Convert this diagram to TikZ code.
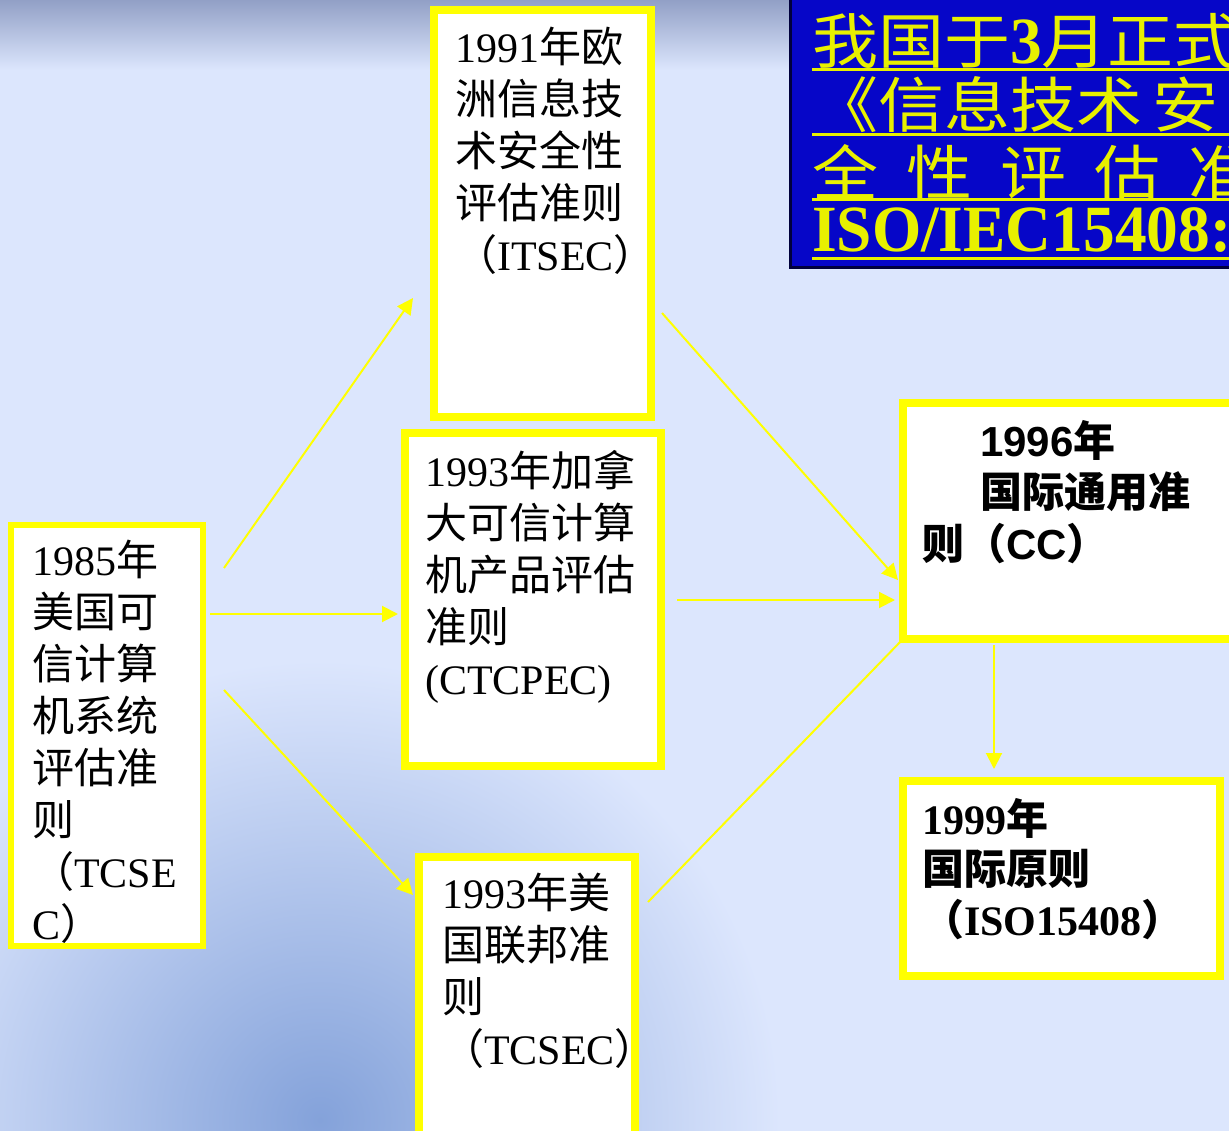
\documentclass[tikz,border=0pt]{standalone}
\usepackage{fontspec}
\setmainfont{Liberation Serif}
\newfontfamily\cjk{Noto Sans CJK SC}
\newfontfamily\cjkw[FakeStretch=1.1]{Noto Sans CJK SC}
\newfontfamily\ars{Liberation Sans}
\newfontfamily\tnw[FakeStretch=0.96]{Liberation Serif}
\usetikzlibrary{arrows.meta,calc}
\definecolor{bg}{RGB}{220,230,253}
\definecolor{topc}{RGB}{146,160,198}
\definecolor{photo}{RGB}{132,162,218}
\definecolor{yel}{RGB}{255,255,0}
\definecolor{btxt}{RGB}{232,240,0}
\definecolor{bluef}{RGB}{6,6,200}
\definecolor{navy}{RGB}{0,0,60}
\tikzset{
  ybox/.style={draw=yel, fill=white, line width=8pt, outer sep=0pt, inner sep=0pt},
  txt/.style={anchor=north west, inner sep=0pt, align=left, font=\fontsize{42}{52}\selectfont},
  arr/.style={draw=yel, line width=2pt, -{Triangle[length=16pt,width=16pt]}},
  ln/.style={draw=yel, line width=2pt},
  btext/.style={anchor=base west, inner sep=0pt, text=btxt, font=\fontsize{60}{64}\selectfont},
  bul/.style={draw=btxt, line width=3pt}
}
\begin{document}
\begin{tikzpicture}[x=1pt,y=-1pt]
\useasboundingbox (0,0) rectangle (1229,1131);
% background
\fill[bg] (0,0) rectangle (1229,1131);
\shade[top color=topc, bottom color=bg] (0,0) rectangle (1229,70);
\begin{scope}
  \clip (0,0) rectangle (1229,1131);
  \shade[inner color=photo, outer color=bg] (320,1120) circle (460);
\end{scope}
% blue title box
\node[draw=navy, fill=bluef, line width=3pt, minimum width=450pt, minimum height=273pt, inner sep=0pt, outer sep=0pt] (blue) at (1015,131.5) {};
\node[btext] (b1) at (812,64) {{\cjkw 我国于}{\tnw\bfseries\fontsize{66}{64}\selectfont 3}{\cjkw 月正式}};
\node[btext] (b2) at (812,128) {{\cjkw 《信息技术}\hspace{10pt}{\cjkw 安}};
\node[btext] (b3) at (812,196) {{\cjkw 全\hspace{28pt}性\hspace{28pt}评\hspace{28pt}估\hspace{28pt}准}};
\node[btext] (b4) at (812,252) {{\tnw\bfseries\fontsize{66}{64}\selectfont ISO/IEC15408:}};
\draw[bul] (812,70) -- (1240,70);
\draw[bul] (812,135) -- (1240,135);
\draw[bul] (812,200) -- (1240,200);
\draw[bul] (812,259) -- (1240,259);
% boxes
\node[ybox, minimum width=217pt, minimum height=407pt] (itsec) at (542.5,213.5) {};
\node[ybox, minimum width=256pt, minimum height=333pt] (ctcpec) at (533,599.5) {};
\node[ybox, line width=6pt, minimum width=192pt, minimum height=421pt] (tcsec) at (107,735.5) {};
\node[ybox, minimum width=216pt, minimum height=283pt] (fed) at (527,998.5) {};
\node[ybox, minimum width=337pt, minimum height=236pt] (cc) at (1071.5,521) {};
\node[ybox, minimum width=317pt, minimum height=195pt] (iso) at (1061.5,878.5) {};
% texts
\node[txt] (titsec) at (455,27) {1991{\cjk 年欧}\\{\cjk 洲信息技}\\{\cjk 术安全性}\\{\cjk 评估准则}\\{\cjk （}ITSEC{\cjk ）}};
\node[txt] (tctcpec) at (425,450) {1993{\cjk 年加拿}\\{\cjk 大可信计算}\\{\cjk 机产品评估}\\{\cjk 准则}\\(CTCPEC)};
\node[txt] (ttcsec) at (32,540) {1985{\cjk 年}\\{\cjk 美国可}\\{\cjk 信计算}\\{\cjk 机系统}\\{\cjk 评估准}\\{\cjk 则}\\{\cjk （}TCSE\\C{\cjk ）}};
\node[txt] (tfed) at (442,873) {1993{\cjk 年美}\\{\cjk 国联邦准}\\{\cjk 则}\\{\cjk （}TCSEC{\cjk ）}};
\node[txt, font=\fontsize{42}{51.5}\selectfont\bfseries] (tcc) at (922,420) {\hspace*{58pt}{\ars 1996}{\cjk 年}\\\hspace*{58pt}{\cjk 国际通用准}\\{\cjk 则（}{\ars CC}{\cjk ）}};
\node[txt, font=\fontsize{42}{50.5}\selectfont\bfseries] (tiso) at (922,798) {1999{\cjk 年}\\{\cjk 国际原则}\\{\cjk （}ISO15408{\cjk ）}};
% connectors
\draw[arr] ($(tcsec.north east)+(21,43)$) -- ($(itsec.south west)+(-21,-119)$);
\draw[arr] ($(tcsec.east)+(7,-121.5)$) -- ($(ctcpec.west)+(-7,14.5)$);
\draw[arr] ($(tcsec.east)+(21,-45.5)$) -- ($(fed.north west)+(-6,38)$);
\draw[arr] ($(itsec.east)+(11,99.5)$) -- ($(cc.west)+(-5,59)$);
\draw[arr] ($(ctcpec.east)+(16,0.5)$) -- ($(cc.west)+(-8,79)$);
\draw[ln] ($(fed.north east)+(13,45)$) -- (cc.south west);
\draw[arr] ($(cc.south west)+(91,6)$) -- ($(iso.north west)+(91,-12)$);
\end{tikzpicture}
\end{document}
